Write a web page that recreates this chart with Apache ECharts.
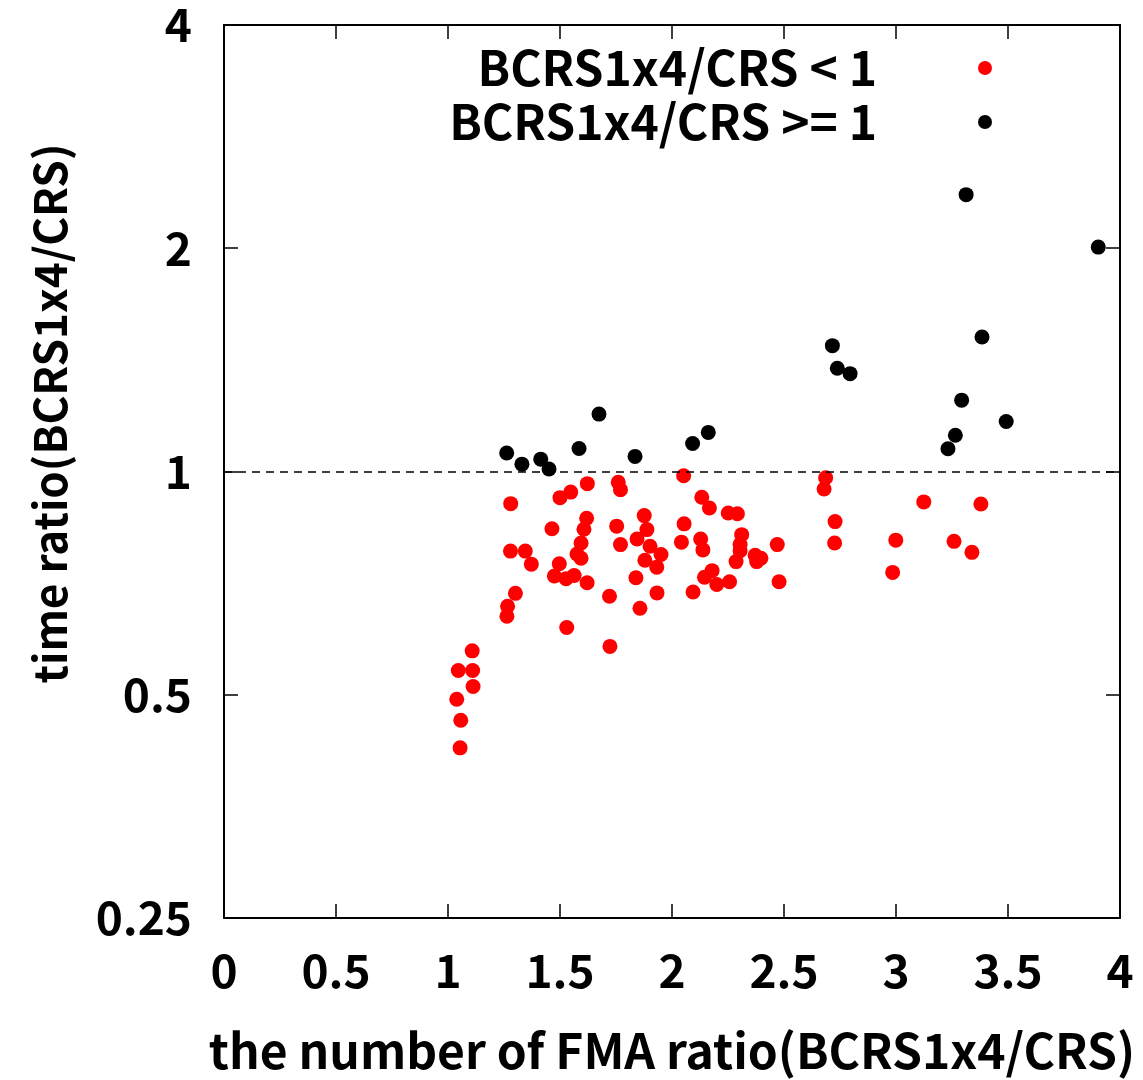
<!DOCTYPE html>
<html>
<head>
<meta charset="utf-8">
<script src="https://cdn.jsdelivr.net/npm/echarts@6/dist/echarts.min.js"></script>
<style>
  html, body { margin: 0; padding: 0; background: #fff; }
  #main { width: 1143px; height: 1080px; }
</style>
</head>
<body>
<div id="main"></div>
<script>
// data (x: FMA ratio, y: time ratio)
var redName = 'BCRS1x4/CRS < 1'
var blackName = 'BCRS1x4/CRS >= 1'

var redX = [2.052, 2.686, 2.679, 1.622, 1.760, 1.770, 1.548, 1.500, 1.280, 2.133,
            2.167, 2.251, 2.292, 1.876, 1.619, 2.728, 2.054, 1.753, 1.464, 1.607,
            1.888, 2.311, 1.844, 2.128, 2.726, 2.042, 1.770, 2.470, 1.594, 2.304,
            1.902, 2.138, 1.279, 1.345, 1.576, 1.951, 2.304, 2.371, 2.397, 1.594,
            1.879, 2.286, 2.378, 1.372, 1.497, 1.932, 2.179, 1.475, 1.527, 1.563,
            1.621, 1.839, 2.145, 2.478, 2.200, 2.257, 1.301, 1.721, 1.933, 2.094,
            1.266, 1.263, 1.857, 1.530, 1.723, 1.108, 1.046, 1.110, 1.112, 1.039,
            1.057, 1.054, 3.124, 3.379, 2.999, 3.259, 3.339, 2.985]
var redY = [0.987, 0.981, 0.947, 0.963, 0.967, 0.945, 0.938, 0.922, 0.905, 0.923,
            0.893, 0.879, 0.877, 0.872, 0.865, 0.856, 0.850, 0.844, 0.837, 0.836,
            0.835, 0.822, 0.811, 0.811, 0.801, 0.803, 0.797, 0.797, 0.801, 0.797,
            0.793, 0.784, 0.781, 0.781, 0.774, 0.773, 0.782, 0.771, 0.764, 0.764,
            0.759, 0.756, 0.756, 0.750, 0.751, 0.743, 0.735, 0.723, 0.717, 0.724,
            0.708, 0.719, 0.720, 0.710, 0.704, 0.710, 0.685, 0.679, 0.686, 0.688,
            0.658, 0.638, 0.654, 0.616, 0.581, 0.573, 0.539, 0.539, 0.513, 0.493,
            0.462, 0.424, 0.910, 0.904, 0.808, 0.805, 0.778, 0.731]

var blackX = [1.262, 1.330, 1.414, 1.451, 1.585, 1.674, 1.835, 2.092, 2.162, 2.716,
              2.738, 2.795, 3.313, 3.903, 3.384, 3.293, 3.492, 3.265, 3.232]
var blackY = [1.059, 1.023, 1.039, 1.008, 1.074, 1.195, 1.048, 1.091, 1.129, 1.478,
              1.378, 1.355, 2.362, 2.007, 1.518, 1.248, 1.168, 1.119, 1.073]

var xTitle = 'the number of FMA ratio(BCRS1x4/CRS)'
var yTitle = 'time ratio(BCRS1x4/CRS)'

var font = '"Noto Sans CJK JP", "Noto Sans", sans-serif'

var pairs = (xs, ys) => {
    var out = []
    for (var i = 0; i < xs.length; i++) {
        out.push([xs[i], ys[i]])
    }
    return out
}

var axisLine = {show: true, onZero: false, lineStyle: {color: '#000', width: 2}}
var axisTick = {show: true, inside: true, length: 14, lineStyle: {color: '#000', width: 1.5}}
var tickFont = {color: '#000', fontFamily: font, fontSize: 46, fontWeight: 'bold'}
var legendText = {color: '#000', fontFamily: font, fontSize: 48, fontWeight: 'bold', padding: [0, 96, 0, 0]}

var __main = () => {
    var myChart = echarts.init(document.querySelector('#main'))

    var option = {
        animation: false,
        backgroundColor: '#fff',
        grid: {left: 224, right: 23, top: 25, bottom: 159},
        legend: [
            {
                data: [redName], orient: 'vertical', align: 'right',
                right: 146, top: 39, icon: 'circle', itemWidth: 14, itemHeight: 14,
                textStyle: legendText,
            },
            {
                data: [blackName], orient: 'vertical', align: 'right',
                right: 146, top: 93, icon: 'circle', itemWidth: 14, itemHeight: 14,
                textStyle: legendText,
            },
        ],
        xAxis: [
            {
                type: 'value', min: 0, max: 4, interval: 0.5, position: 'bottom',
                name: xTitle, nameLocation: 'middle', nameGap: 109,
                nameTextStyle: {color: '#000', fontFamily: font, fontSize: 48, fontWeight: 'bold'},
                axisLine: axisLine, axisTick: axisTick,
                axisLabel: Object.assign({margin: 30}, tickFont),
                splitLine: {show: false},
            },
            {
                type: 'value', min: 0, max: 4, interval: 0.5, position: 'top',
                axisLine: axisLine, axisTick: axisTick,
                axisLabel: {show: false}, splitLine: {show: false},
            },
        ],
        yAxis: [
            {
                type: 'log', logBase: 2, min: 0.25, max: 4, position: 'left',
                name: yTitle, nameLocation: 'middle', nameGap: 152,
                nameTextStyle: {color: '#000', fontFamily: font, fontSize: 44, fontWeight: 'bold', padding: [0, 0, 0, 116]},
                axisLine: axisLine, axisTick: axisTick,
                axisLabel: Object.assign({margin: 32}, tickFont),
                splitLine: {show: false}, minorTick: {show: false},
            },
            {
                type: 'log', logBase: 2, min: 0.25, max: 4, position: 'right',
                axisLine: axisLine, axisTick: axisTick,
                axisLabel: {show: false}, splitLine: {show: false},
            },
        ],
        series: [
            {
                name: redName, type: 'scatter', symbolSize: 15,
                itemStyle: {color: '#ff0000', opacity: 1},
                data: pairs(redX, redY),
            },
            {
                name: blackName, type: 'scatter', symbolSize: 15,
                itemStyle: {color: '#000000', opacity: 1},
                data: pairs(blackX, blackY),
                markLine: {
                    silent: true, symbol: 'none', z: 5,
                    label: {show: false},
                    lineStyle: {color: '#000', type: [8, 6], width: 1.5},
                    data: [{yAxis: 1}],
                },
            },
        ],
    }

    myChart.setOption(option)
}
__main()
</script>
</body>
</html>
